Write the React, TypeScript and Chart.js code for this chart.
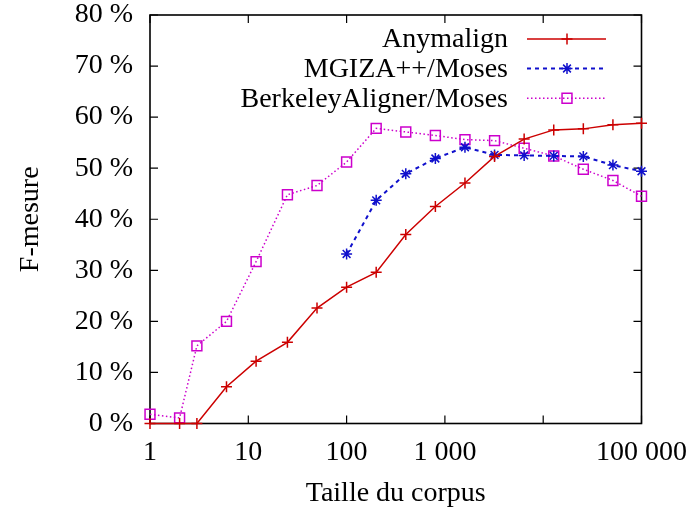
import React, { useEffect, useRef } from "react";
import { Chart, registerables } from "chart.js";

Chart.register(...registerables);

const corpusSizes = [1, 2, 3, 6, 12, 25, 50, 100, 200, 400, 800, 1600, 3200, 6400, 12800, 25600, 51200, 100000];
const anymalign = [0, 0, 0, 7.2, 12.2, 15.9, 22.6, 26.7, 29.6, 37.0, 42.5, 47.1, 52.3, 55.7, 57.5, 57.7, 58.5, 58.8];
const mgiza = [null, null, null, null, null, null, null, 33.2, 43.7, 48.9, 51.9, 54.1, 52.6, 52.5, 52.4, 52.3, 50.6, 49.4];
const berkeley = [1.8, 1.1, 15.2, 20.0, 31.7, 44.8, 46.6, 51.2, 57.8, 57.1, 56.4, 55.6, 55.4, 53.9, 52.4, 49.8, 47.6, 44.5];
const seriesNames = ["Anymalign", "MGIZA++/Moses", "BerkeleyAligner/Moses"];
const xTickValues = [1, 10, 100, 1000, 10000, 100000];
const xTickLabels = ["1", "10", "100", "1 000", "", "100 000"];
const yTicks = [0, 10, 20, 30, 40, 50, 60, 70, 80];

const FONT = "'Liberation Serif', 'Times New Roman', serif";
const FS = 28;
const RED = "#cc0000";
const BLUE = "#1010cc";
const MAGENTA = "#cc00cc";

function drawMarker(ctx: CanvasRenderingContext2D, style: string, x: number, y: number, r: number) {
  ctx.beginPath();
  if (style === "cross" || style === "star") {
    ctx.moveTo(x - r, y);
    ctx.lineTo(x + r, y);
    ctx.moveTo(x, y - r);
    ctx.lineTo(x, y + r);
    if (style === "star") {
      const d = r * Math.SQRT1_2;
      ctx.moveTo(x - d, y - d);
      ctx.lineTo(x + d, y + d);
      ctx.moveTo(x - d, y + d);
      ctx.lineTo(x + d, y - d);
    }
  } else if (style === "rect") {
    const s = r * Math.SQRT1_2;
    ctx.rect(x - s, y - s, 2 * s, 2 * s);
  }
  ctx.stroke();
}

const framePlugin = {
  id: "frame",
  beforeDatasetsDraw(chart: any) {
    const { ctx, chartArea } = chart;
    const xs = chart.scales.x;
    const ys = chart.scales.y;
    const { left, right, top, bottom } = chartArea;
    ctx.save();
    ctx.strokeStyle = "#000";
    ctx.lineWidth = 1.6;
    ctx.strokeRect(left, top, right - left, bottom - top);
    ctx.lineWidth = 1.2;
    const tl = 8;
    ctx.beginPath();
    for (const v of xTickValues) {
      const px = xs.getPixelForValue(v);
      ctx.moveTo(px, bottom);
      ctx.lineTo(px, bottom - tl);
      ctx.moveTo(px, top);
      ctx.lineTo(px, top + tl);
    }
    for (const v of yTicks) {
      const py = ys.getPixelForValue(v);
      ctx.moveTo(left, py);
      ctx.lineTo(left + tl, py);
      ctx.moveTo(right, py);
      ctx.lineTo(right - tl, py);
    }
    ctx.stroke();
    ctx.restore();
  },
  afterDraw(chart: any) {
    const { ctx } = chart;
    ctx.save();
    ctx.font = FS + "px " + FONT;
    ctx.textAlign = "right";
    ctx.textBaseline = "middle";
    const rows = [39, 68.5, 98.3];
    chart.data.datasets.forEach((ds: any, i: number) => {
      const y = rows[i];
      ctx.fillStyle = "#000";
      ctx.fillText(ds.label, 508, y + 1);
      ctx.strokeStyle = ds.borderColor;
      ctx.lineWidth = ds.borderWidth;
      ctx.setLineDash(ds.borderDash || []);
      ctx.beginPath();
      ctx.moveTo(527, y);
      ctx.lineTo(606, y);
      ctx.stroke();
      ctx.setLineDash([]);
      ctx.lineWidth = ds.pointBorderWidth;
      drawMarker(ctx, ds.pointStyle, 567, y, ds.pointRadius);
    });
    ctx.restore();
  },
};

export default function App() {
  const ref = useRef<HTMLCanvasElement>(null);
  useEffect(() => {
    if (!ref.current) return;
    const toPts = (vals: (number | null)[]) => corpusSizes.map((x, i) => ({ x, y: vals[i] }));
    const chart = new Chart(ref.current, {
      type: "line",
      data: {
        datasets: [
          {
            label: seriesNames[0],
            data: toPts(anymalign),
            borderColor: RED,
            borderWidth: 1.5,
            pointStyle: "cross",
            pointRadius: 5.5,
            pointBorderWidth: 1.5,
            pointBorderColor: RED,
            backgroundColor: "transparent",
            clip: false,
          } as any,
          {
            label: seriesNames[1],
            data: toPts(mgiza),
            borderColor: BLUE,
            borderWidth: 2,
            borderDash: [4, 4],
            pointStyle: "star",
            pointRadius: 5.5,
            pointBorderWidth: 1.5,
            pointBorderColor: BLUE,
            backgroundColor: "transparent",
            clip: false,
          } as any,
          {
            label: seriesNames[2],
            data: toPts(berkeley),
            borderColor: MAGENTA,
            borderWidth: 1.5,
            borderDash: [1.5, 2.5],
            pointStyle: "rect",
            pointRadius: 7,
            pointBorderWidth: 1.5,
            pointBorderColor: MAGENTA,
            pointBackgroundColor: "transparent",
            backgroundColor: "transparent",
            clip: false,
          } as any,
        ],
      },
      options: {
        responsive: false,
        animation: false,
        devicePixelRatio: 1,
        layout: { padding: { top: 15, right: 47.5, left: 0, bottom: 0 } },
        plugins: { legend: { display: false }, tooltip: { enabled: false } },
        scales: {
          x: {
            type: "logarithmic",
            min: 1,
            max: 100000,
            afterBuildTicks: (scale: any) => {
              scale.ticks = xTickValues.map((v) => ({ value: v }));
            },
            afterFit: (scale: any) => {
              scale.height = 90.5;
              scale.paddingLeft = 0;
              scale.paddingRight = 0;
            },
            grid: { display: false, drawTicks: false },
            border: { display: false },
            ticks: {
              autoSkip: false,
              maxRotation: 0,
              padding: 12,
              color: "#000",
              font: { family: FONT, size: FS },
              callback: (value: any) => {
                const idx = xTickValues.indexOf(Number(value));
                return idx >= 0 ? xTickLabels[idx] : "";
              },
            },
            title: {
              display: true,
              text: "Taille du corpus",
              color: "#000",
              font: { family: FONT, size: FS },
              padding: { top: 0, bottom: 4 },
            },
          },
          y: {
            min: 0,
            max: 80,
            afterFit: (scale: any) => {
              scale.width = 150;
              scale.paddingTop = 0;
              scale.paddingBottom = 0;
            },
            afterBuildTicks: (scale: any) => {
              scale.ticks = yTicks.map((v) => ({ value: v }));
            },
            grid: { display: false, drawTicks: false },
            border: { display: false },
            ticks: {
              padding: 17,
              color: "#000",
              font: { family: FONT, size: FS },
              callback: (value: any) => value + " %",
            },
            title: {
              display: true,
              text: "F-mesure",
              color: "#000",
              font: { family: FONT, size: FS },
              padding: { top: 14, bottom: 0 },
            },
          },
        },
      } as any,
      plugins: [framePlugin],
    });
    return () => chart.destroy();
  }, []);
  return (
    <div style={{ position: "fixed", left: 0, top: 0, width: 689, height: 514, background: "#fff" }}>
      <canvas ref={ref} width={689} height={514} />
    </div>
  );
}
